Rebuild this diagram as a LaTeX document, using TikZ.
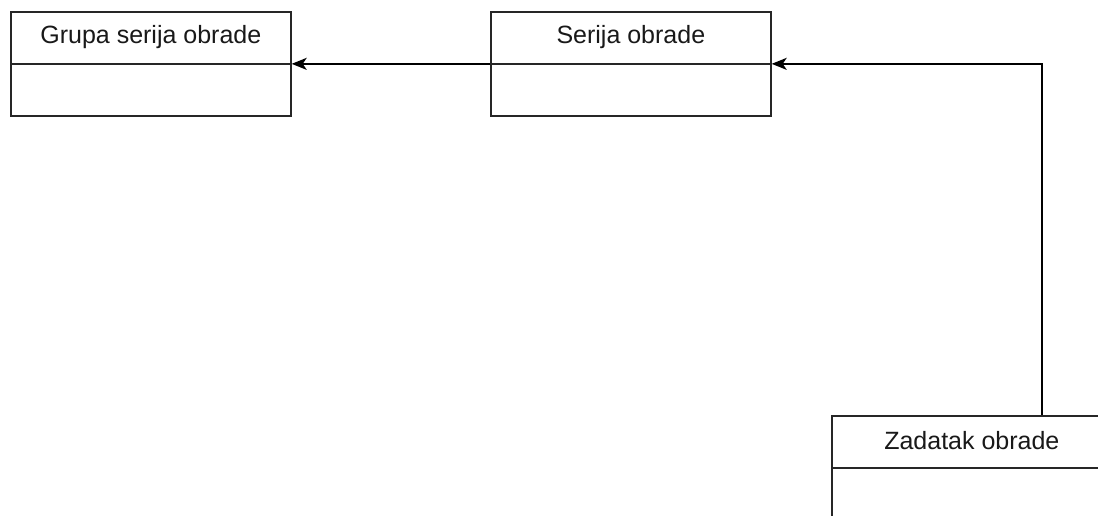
\documentclass[tikz,border=0pt]{standalone}
\usepackage{fontspec}
\setmainfont{Liberation Sans}
\usetikzlibrary{arrows.meta,calc}
\begin{document}
\begin{tikzpicture}[x=1pt,y=-1pt,
  box/.style={draw=black!85,line width=1.7pt,minimum width=280pt,minimum height=104pt,inner sep=0pt,anchor=north west,fill=white},
  title/.style={font=\fontsize{25}{30}\selectfont,text=black!90,inner sep=0pt,anchor=center},
  conn/.style={draw=black,line width=1.7pt,-{Stealth[length=15pt,width=12pt,inset=4pt]}}]
\useasboundingbox (0,0) rectangle (1098,515);
\clip (0,0) rectangle (1098,515);
\node[box] (grupa) at (10,11) {};
\node[box] (serija) at (490,11) {};
\node[box] (zadatak) at (831,415) {};
\foreach \n in {grupa,serija,zadatak}{
  \draw[draw=black!85,line width=1.7pt] (\n.west) -- (\n.east);
}
\node[title] (grupaT) at ($(grupa.north)+(0,26)$) {Grupa serija obrade};
\node[title] (serijaT) at ($(serija.north)+(0,26)$) {Serija obrade};
\node[title] (zadatakT) at ($(zadatak.north)+(0,26)$) {Zadatak obrade};
\draw[conn] (serija.west) -- (grupa.east);
\coordinate (zstart) at ($(zadatak.north)+(70,0)$);
\draw[conn] (zstart) |- (serija.east);
\end{tikzpicture}
\end{document}
